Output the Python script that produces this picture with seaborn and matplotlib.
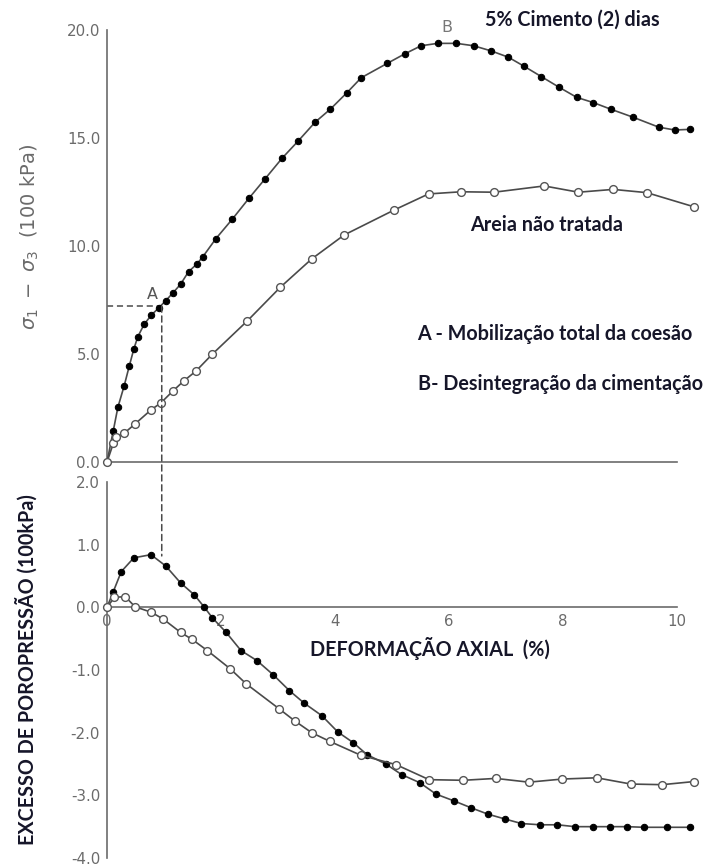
import matplotlib
matplotlib.use("Agg")
import matplotlib.pyplot as plt
from matplotlib.patches import ConnectionPatch
import pandas as pd
import seaborn as sns

# Deviator stress (100 kPa) against axial strain (%)
strain_cement_q = [0, 0.11, 0.19, 0.30, 0.39, 0.47, 0.54, 0.65, 0.78, 0.91, 1.03, 1.15,
                   1.29, 1.43, 1.57, 1.68, 1.91, 2.20, 2.49, 2.77, 3.07, 3.35, 3.65, 3.92,
                   4.21, 4.46, 4.92, 5.22, 5.51, 5.80, 6.13, 6.43, 6.74, 7.04, 7.31, 7.62,
                   7.93, 8.24, 8.53, 8.84, 9.23, 9.68, 9.96, 10.23]
q_cement = [0, 1.45, 2.53, 3.52, 4.44, 5.23, 5.80, 6.37, 6.81, 7.14, 7.47, 7.81,
            8.23, 8.81, 9.15, 9.50, 10.34, 11.25, 12.21, 13.10, 14.06, 14.85, 15.73, 16.34,
            17.10, 17.79, 18.46, 18.89, 19.27, 19.38, 19.38, 19.27, 19.03, 18.74, 18.33, 17.84,
            17.35, 16.88, 16.64, 16.33, 15.96, 15.50, 15.37, 15.40]

strain_sand_q = [0, 0.11, 0.16, 0.30, 0.49, 0.77, 0.95, 1.16, 1.35, 1.56, 1.85, 2.46,
                 3.04, 3.59, 4.16, 5.04, 5.64, 6.21, 6.79, 7.67, 8.27, 8.88, 9.47, 10.29]
q_sand = [0, 0.86, 1.17, 1.33, 1.76, 2.41, 2.75, 3.30, 3.76, 4.21, 5.00, 6.53,
          8.09, 9.40, 10.51, 11.67, 12.41, 12.51, 12.49, 12.78, 12.49, 12.62, 12.47, 11.82]

# Excess pore pressure (100 kPa) against axial strain (%)
strain_cement_u = [0, 0.11, 0.25, 0.47, 0.77, 1.03, 1.29, 1.53, 1.70, 1.85, 2.09, 2.35,
                   2.63, 2.92, 3.20, 3.46, 3.77, 4.05, 4.32, 4.56, 4.89, 5.17, 5.49, 5.77,
                   6.09, 6.39, 6.68, 6.99, 7.27, 7.60, 7.90, 8.21, 8.52, 8.82, 9.12, 9.42,
                   9.82, 10.22]
u_cement = [0, 0.25, 0.57, 0.79, 0.84, 0.66, 0.39, 0.20, 0.01, -0.17, -0.40, -0.69,
            -0.85, -1.08, -1.33, -1.53, -1.73, -1.99, -2.16, -2.35, -2.50, -2.67, -2.80, -2.98,
            -3.09, -3.20, -3.30, -3.38, -3.45, -3.47, -3.47, -3.50, -3.50, -3.50, -3.50, -3.51,
            -3.51, -3.51]

strain_sand_u = [0, 0.13, 0.32, 0.49, 0.78, 0.99, 1.29, 1.49, 1.76, 2.16, 2.44, 3.02,
                 3.29, 3.59, 3.91, 4.45, 5.07, 5.65, 6.25, 6.82, 7.40, 7.99, 8.59, 9.19,
                 9.74, 10.30]
u_sand = [0, 0.16, 0.17, 0.01, -0.08, -0.19, -0.40, -0.51, -0.69, -0.98, -1.22, -1.62,
          -1.81, -2.00, -2.14, -2.36, -2.51, -2.75, -2.76, -2.73, -2.79, -2.74, -2.72, -2.82,
          -2.83, -2.78]

# Point A (full cohesion mobilised) and point B (breakdown of cementation)
point_a = (0.96, 7.22)
point_a_u = 0.82
point_b = (5.96, 20.1)

q_ticks = [0, 5, 10, 15, 20]
u_ticks = [2, 1, 0, -1, -2, -3, -4]
strain_ticks = [0, 2, 4, 6, 8, 10]

sns.set_style("white")
plt.rcParams["font.family"] = ["DejaVu Sans"]
plt.rcParams["axes.unicode_minus"] = False

GRAY = "#6b6b6b"
LINE = "#4a4a4a"
INK = "#161629"
BOLD = dict(family=["Lato", "DejaVu Sans"], weight="bold", color=INK, fontsize=14.2)

fig = plt.figure(figsize=(7.14, 8.67), dpi=100)
ax1 = fig.add_axes([0.1499, 0.4671, 0.8263, 0.5058])
ax2 = fig.add_axes([0.1499, 0.01038, 0.8263, 0.4337])

solid = dict(color=LINE, lw=1.2, marker="o", markersize=4.6, markerfacecolor="black",
             markeredgecolor="black", sort=False, estimator=None, clip_on=False, zorder=3)
hollow = dict(color=LINE, lw=1.2, marker="o", markersize=5.6, markerfacecolor="white",
              markeredgecolor="#555555", markeredgewidth=1.0, sort=False, estimator=None,
              clip_on=False, zorder=3)

sns.lineplot(data=pd.DataFrame({"e": strain_cement_q, "q": q_cement}), x="e", y="q", ax=ax1, **solid)
sns.lineplot(data=pd.DataFrame({"e": strain_sand_q, "q": q_sand}), x="e", y="q", ax=ax1, **hollow)
sns.lineplot(data=pd.DataFrame({"e": strain_cement_u, "u": u_cement}), x="e", y="u", ax=ax2, **solid)
sns.lineplot(data=pd.DataFrame({"e": strain_sand_u, "u": u_sand}), x="e", y="u", ax=ax2, **hollow)

for ax in (ax1, ax2):
    ax.set_xlim(0, 10.35)
    ax.set_xlabel("")
    ax.set_ylabel("")
    ax.spines["top"].set_visible(False)
    ax.spines["right"].set_visible(False)
    for s in ("left", "bottom"):
        ax.spines[s].set_color(GRAY)
        ax.spines[s].set_linewidth(1.2)
    ax.spines["bottom"].set_bounds(0, 10)
    ax.tick_params(direction="in", length=6, width=1.1, color=GRAY, labelcolor=GRAY,
                   labelsize=10.8, pad=5)
    ax.patch.set_alpha(0)

ax1.set_ylim(0, 20.3)
ax1.spines["left"].set_bounds(0, 20)
ax1.set_yticks(q_ticks)
ax1.set_yticklabels([f"{v:.1f}" for v in q_ticks])
ax1.set_xticks(strain_ticks[1:])
ax1.set_xticklabels([])

ax2.set_ylim(-4, 2)
ax2.spines["left"].set_bounds(-4, 2)
ax2.spines["bottom"].set_position(("data", 0))
ax2.set_yticks(u_ticks)
ax2.set_yticklabels([f"{v:.1f}" for v in u_ticks])
ax2.set_xticks(strain_ticks)
ax2.set_xticklabels([str(v) for v in strain_ticks])

# Guide lines through point A, running down into the pore-pressure panel
dash = (0, (4, 2.5))
ax1.plot([0, point_a[0]], [point_a[1], point_a[1]], color=LINE, lw=1.1, ls=dash, zorder=2)
con = ConnectionPatch(xyA=point_a, coordsA=ax1.transData,
                      xyB=(point_a[0], point_a_u), coordsB=ax2.transData,
                      color=LINE, lw=1.1, ls=dash, zorder=2)
fig.add_artist(con)

ax1.text(point_a[0] - 0.16, point_a[1] + 0.55, "A", color="#555555", fontsize=11.5,
         ha="center", va="center")
ax1.text(point_b[0], point_b[1], "B", color="#777777", fontsize=11.5, ha="center", va="center")

ax1.text(6.63, 20.46, "5% Cimento (2) dias", ha="left", va="center", **BOLD)
ax1.text(6.37, 10.97, "Areia não tratada", ha="left", va="center", **BOLD)
ax1.text(5.44, 5.93, "A - Mobilização total da coesão", ha="left", va="center", **BOLD)
ax1.text(5.46, 3.61, "B- Desintegração da cimentação", ha="left", va="center", **BOLD)
ax2.text(3.56, -0.66, "DEFORMAÇÃO AXIAL  (%)", ha="left", va="center", **BOLD)

fig.text(30 / 714, 1 - 237 / 867, r"$\sigma_1\ -\ \sigma_3$  (100 kPa)", rotation=90,
         color=GRAY, fontsize=14, ha="center", va="center")
fig.text(27 / 714, 1 - 670 / 867, "EXCESSO DE POROPRESSÃO (100kPa)", rotation=90,
         ha="center", va="center", **BOLD)

fig.savefig("out.png", dpi=100)
